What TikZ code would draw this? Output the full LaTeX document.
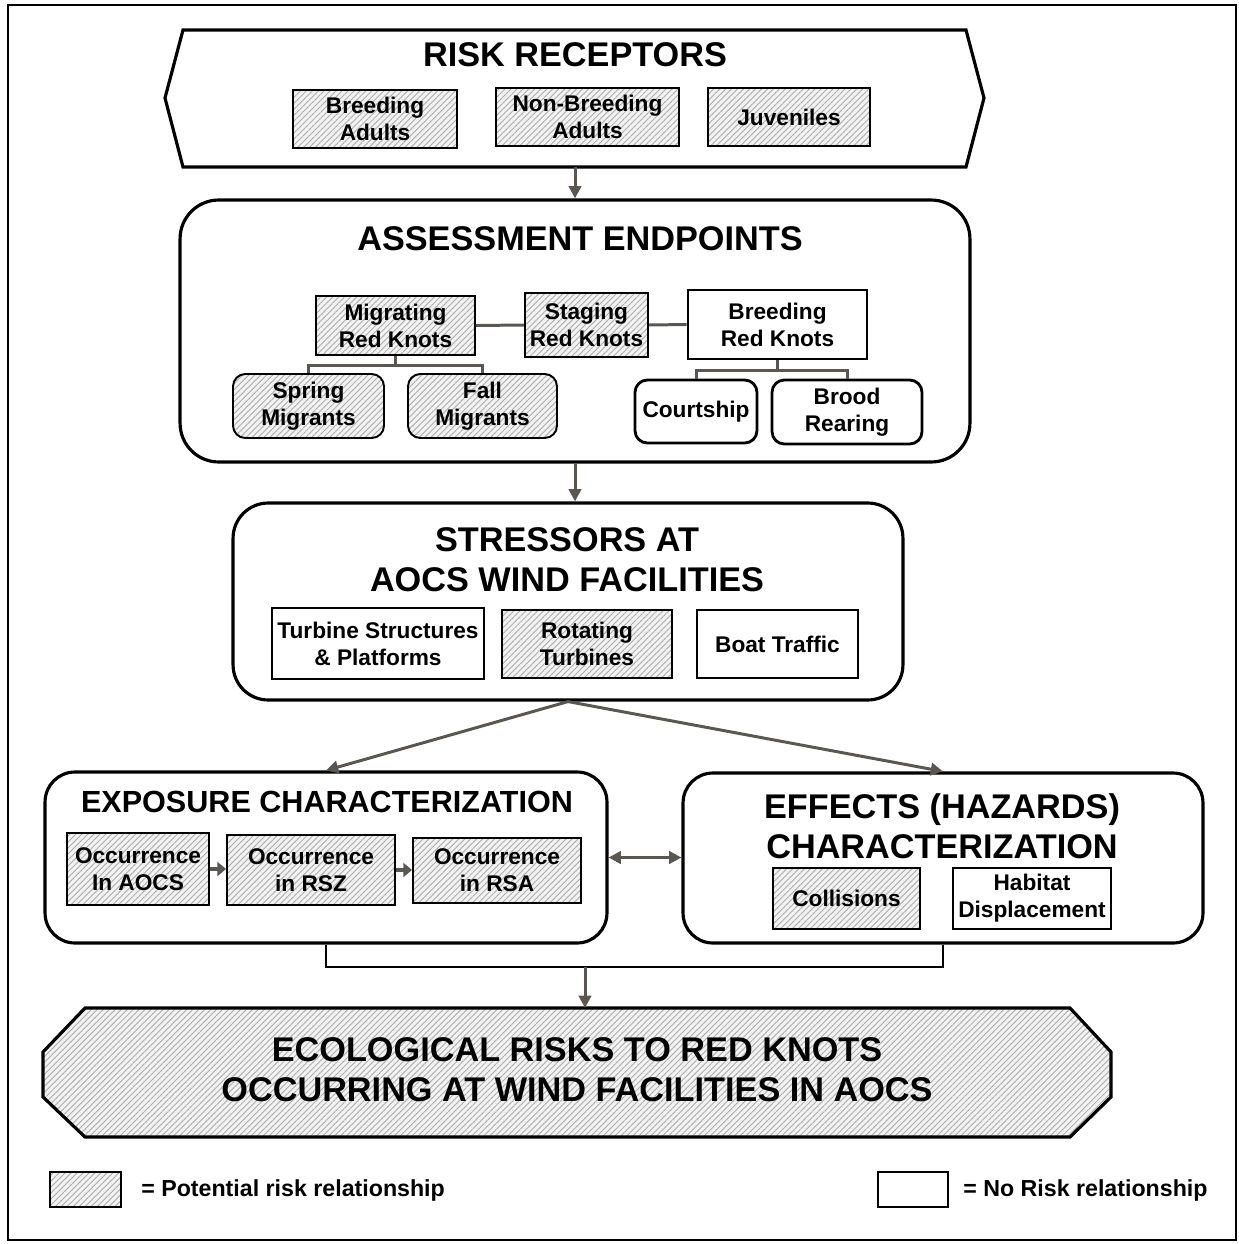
\documentclass[tikz,border=0pt]{standalone}
\usepackage{fontspec}
\setmainfont{Liberation Sans}
\usetikzlibrary{arrows.meta,patterns.meta}
\definecolor{linkgray}{HTML}{5B5750}

\begin{document}
\begin{tikzpicture}[x=0.02cm, y=-0.02cm,
  title/.style={align=center, font=\bfseries\fontsize{19.5}{22.7}\selectfont},
  boxtext/.style={align=center, inner sep=0pt, font=\bfseries\fontsize{12.9}{15.3}\selectfont},
  hatched/.style={boxtext, draw, line width=1.1pt, preaction={fill=gray!10},
    pattern={Lines[angle=45,distance=2.4pt,line width=0.5pt]}, pattern color=gray!65},
  plainbox/.style={boxtext, draw, line width=1.6pt, fill=white},
  panel/.style={draw, line width=1.8pt, rounded corners=#1},
  flow/.style={draw=linkgray, line width=1.7pt, -{Triangle[length=7pt,width=7pt]}},
  link/.style={draw=linkgray, line width=1.7pt}]

\useasboundingbox (0,0) rectangle (1238,1244);
\draw [line width=0.6pt] (8,5) rectangle (1236,1240);

% risk receptors
\draw [line width=1.8pt] (165,98) -- (183,30) -- (966,30) -- (984,98) -- (966,167) -- (183,167) -- cycle;
\coordinate (recept) at (575,167);
\node [title] (recepttitle) at (575,55) {RISK RECEPTORS};
\node [hatched, minimum width=3.28cm, minimum height=1.16cm] (breedad) at (375,119) {Breeding\\Adults};
\node [hatched, minimum width=3.66cm, minimum height=1.16cm] (nonbreed) at (587.5,117) {Non-Breeding\\Adults};
\node [hatched, minimum width=3.24cm, minimum height=1.16cm] (juven) at (789,117) {Juveniles};

% assessment endpoints
\node [panel=22pt, minimum width=15.8cm, minimum height=5.24cm] (assess) at (575,331) {};
\node [title] (assesstitle) at (580,239) {ASSESSMENT ENDPOINTS};
\node [hatched, minimum width=3.18cm, minimum height=1.18cm] (migr) at (395.5,325.5) {Migrating\\Red Knots};
\node [hatched, minimum width=2.46cm, minimum height=1.28cm] (stag) at (586.5,325) {Staging\\Red Knots};
\node [plainbox, minimum width=3.58cm, minimum height=1.38cm] (breedrk) at (777.5,324.5) {Breeding\\Red Knots};
\node [hatched, rounded corners=7pt, minimum width=3.02cm, minimum height=1.28cm] (spring) at (308.5,406) {Spring\\Migrants};
\node [hatched, rounded corners=7pt, minimum width=2.98cm, minimum height=1.28cm] (fall) at (482.5,406) {Fall\\Migrants};
\node [plainbox, rounded corners=7pt, minimum width=2.44cm, minimum height=1.26cm] (court) at (696,411.5) {Courtship};
\node [plainbox, rounded corners=7pt, minimum width=3.0cm, minimum height=1.28cm] (brood) at (847,412) {Brood\\Rearing};

\draw [link] (migr.east) -- (stag.west);
\draw [link] (stag.east) -- (breedrk.west);
\draw [link] (migr.south) -- ++(0,10) coordinate (mfork);
\draw [link] (spring.north) |- (mfork) -| (fall.north);
\draw [link] (breedrk.south) -- ++(0,10) coordinate (bfork);
\draw [link] (court.north) |- (bfork) -| (brood.north);

% stressors
\node [panel=20pt, minimum width=13.4cm, minimum height=3.94cm] (stress) at (568,601.5) {};
\node [title] (stresstitle) at (567,560) {STRESSORS AT\\AOCS WIND FACILITIES};
\node [plainbox, minimum width=4.24cm, minimum height=1.42cm] (turb) at (378,643.5) {Turbine Structures\\\& Platforms};
\node [hatched, minimum width=3.4cm, minimum height=1.36cm] (rot) at (587,644) {Rotating\\Turbines};
\node [plainbox, minimum width=3.22cm, minimum height=1.36cm] (boat) at (777.5,644) {Boat Traffic};

% exposure
\node [panel=17pt, minimum width=11.24cm, minimum height=3.42cm] (expo) at (326,857.5) {};
\node [title, font=\bfseries\fontsize{17.4}{20}\selectfont] (expotitle) at (327,802) {EXPOSURE CHARACTERIZATION};
\node [hatched, minimum width=2.84cm, minimum height=1.44cm] (occa) at (138,869) {Occurrence\\In AOCS};
\node [hatched, minimum width=3.36cm, minimum height=1.4cm] (occb) at (311,870) {Occurrence\\in RSZ};
\node [hatched, minimum width=3.36cm, minimum height=1.3cm] (occc) at (497,870.5) {Occurrence\\in RSA};
\draw [draw=linkgray, line width=2.4pt, -{Triangle[length=5pt,width=8pt]}] (occa.east) -- (occb.west |- occa.east);
\draw [draw=linkgray, line width=2.4pt, -{Triangle[length=5pt,width=8pt]}] (occb.east) -- (occc.west |- occb.east);

% effects
\node [panel=17pt, minimum width=10.4cm, minimum height=3.4cm] (effect) at (943,858) {};
\node [title] (effecttitle) at (942,826) {EFFECTS (HAZARDS)\\CHARACTERIZATION};
\node [hatched, minimum width=2.94cm, minimum height=1.22cm] (coll) at (846.5,898.5) {Collisions};
\node [plainbox, minimum width=3.16cm, minimum height=1.22cm] (habit) at (1032,898.5) {Habitat\\Displacement};

% ecological risks
\draw [line width=1.8pt, preaction={fill=gray!10}, pattern={Lines[angle=45,distance=2.4pt,line width=0.5pt]}, pattern color=gray!65]
  (85,1008) -- (1070,1008) -- (1111,1052) -- (1111,1097) -- (1070,1137) -- (85,1137) -- (43,1097) -- (43,1052) -- cycle;
\coordinate (ecotop) at (585,1008);
\node [title] (ecotitle) at (577,1070) {ECOLOGICAL RISKS TO RED KNOTS\\OCCURRING AT WIND FACILITIES IN AOCS};

% connectors
\draw [flow] (recept) -- (assess.north);
\draw [flow] (assess.south) -- (assess.south |- stress.north);
\draw [flow] (stress.south) -- (expo.north);
\draw [flow] (stress.south) -- (effect.north);
\draw [draw=linkgray, line width=1.7pt, {Triangle[length=7pt,width=7pt]}-{Triangle[length=7pt,width=7pt]}] (expo.east) -- (effect.west |- expo.east);
\draw [line width=1.2pt] (expo.south) -- ++(0,22) coordinate (join) -| (effect.south);
\draw [flow] (join -| ecotop) -- (ecotop);

% legend
\node [hatched, minimum width=1.42cm, minimum height=0.7cm] (keyhatch) at (85.5,1189.5) {};
\node [boxtext, anchor=west, font=\bfseries\fontsize{13.2}{15.6}\selectfont] (keyhatchtext) at (141,1190) {= Potential risk relationship};
\node [plainbox, minimum width=1.4cm, minimum height=0.7cm] (keyplain) at (913,1189.5) {};
\node [boxtext, anchor=west, font=\bfseries\fontsize{13.2}{15.6}\selectfont] (keyplaintext) at (963,1190) {= No Risk relationship};

\end{tikzpicture}
\end{document}
